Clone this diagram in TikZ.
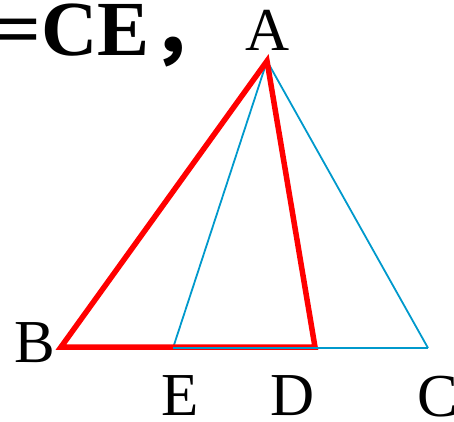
\documentclass[tikz,border=0pt]{standalone}
\usepackage{fontspec}
\setmainfont{Liberation Serif}
\newfontfamily\cjk{Noto Sans CJK SC}
\usepackage{tikz}
\usetikzlibrary{positioning}
\definecolor{lineblue}{RGB}{0,153,204}

\begin{document}
\begin{tikzpicture}[
  x=1pt,y=-1pt,
  pt/.style={inner sep=0pt,anchor=base,font=\fontsize{61}{61}\selectfont},
  redline/.style={draw=red,line width=5.5pt,line join=miter},
  blueline/.style={draw=lineblue,line width=1.8pt},
]
  \useasboundingbox (0,0) rectangle (454,421);
  \coordinate (A) at (267,61);
  \coordinate (B) at (61,347);
  \coordinate (E) at (173,348);
  \coordinate (D) at (315,347);
  \coordinate (C) at (428,348);

  \node[pt] (labA) at (268,50) {A};
  \node[pt] (labB) at (35,362) {B};
  \node[pt] (labE) at (180,415) {E};
  \node[pt] (labD) at (293,415) {D};
  \node[pt] (labC) at (438,416) {C};

  \node[inner sep=0pt,anchor=base east,font=\fontsize{78}{78}\selectfont\bfseries]
    (eq) at (150,55) {=CE};
  \node[inner sep=0pt,anchor=base west,font=\fontsize{75}{75}\selectfont\cjk\bfseries]
    (comma) at (eq.base east) {，};

  \draw[blueline] (A) -- (E);
  \draw[blueline] (A) -- (C);
  \draw[redline] (A) -- (B) -- (D) -- cycle;
  \draw[blueline] (E) -- (C);
\end{tikzpicture}
\end{document}
